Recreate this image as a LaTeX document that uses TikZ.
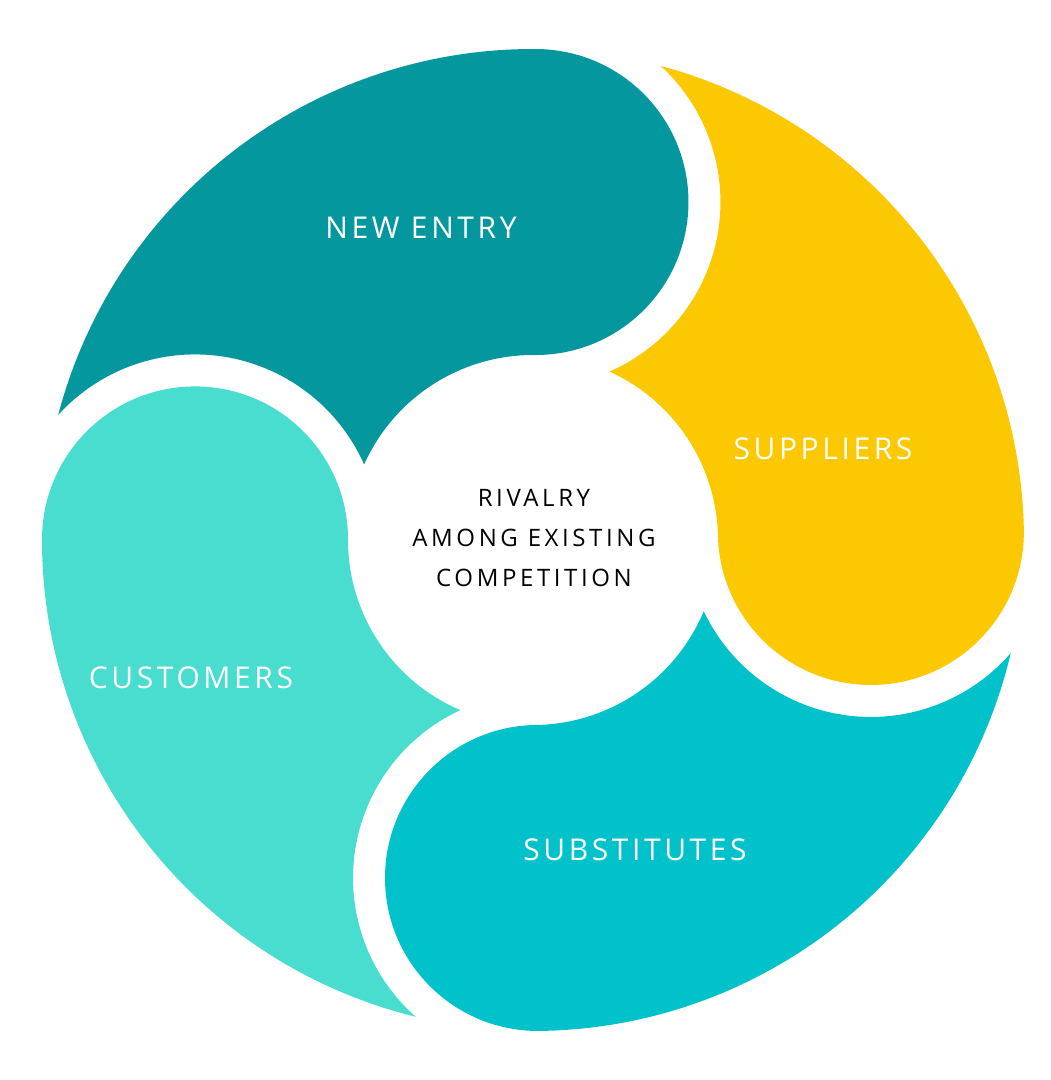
\documentclass[tikz,border=0pt]{standalone}
\usepackage{fontspec}
\setmainfont{Open Sans}
\definecolor{cNew}{HTML}{05979E}
\definecolor{cSup}{HTML}{FBC801}
\definecolor{cSub}{HTML}{01C2CB}
\definecolor{cCus}{HTML}{48DDCF}
\begin{document}
\begin{tikzpicture}[x=1pt,y=1pt,
  lbl/.style={text=white,font=\fontsize{30}{36}\selectfont\addfontfeature{LetterSpace=12}},
  ctr/.style={text=black,align=center,font=\fontsize{24}{40}\selectfont\addfontfeature{LetterSpace=15}}]
\useasboundingbox[fill=white] (-533,-540) rectangle (518,540);
% petal: #1 = own bulge angle, #2 = bulge angle of the neighbour it wraps, #3 = colour
\def\petal#1#2#3{%
  \fill[#3] ({#2-14.67}:491) arc[start angle={#2-14.67},end angle={#1},radius=491pt]
    arc[start angle={#1},end angle={#1-180},radius=153pt]
    arc[start angle={#1},end angle={#2-24.0},radius=185pt]
    arc[start angle={#2-156.0},end angle={#2-42.22},radius=185pt] -- cycle;}
\petal{89.58}{179.9}{cNew}
\petal{1.36}{89.58}{cSup}
\petal{-89.15}{1.36}{cSub}
\petal{-180.1}{-89.15}{cCus}
\node[lbl] (newentry) at (-112,312) {NEW ENTRY};
\node[lbl] (suppliers) at (290,91) {SUPPLIERS};
\node[lbl] (substitutes) at (102,-310) {SUBSTITUTES};
\node[lbl] (customers) at (-342,-138) {CUSTOMERS};
\node[ctr] (rivalry) at (1,2) {RIVALRY\\AMONG EXISTING\\COMPETITION};
\end{tikzpicture}
\end{document}
